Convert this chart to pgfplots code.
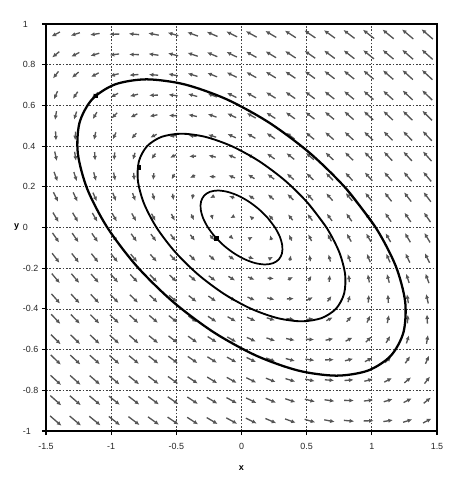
\documentclass[border=0pt]{standalone}
\usepackage{fontspec}
\setmainfont{Liberation Sans}
\usepackage{pgfplots}
\usepackage{pgfplotstable}
\pgfplotsset{compat=1.18}
\usetikzlibrary{arrows.meta}
\pgfplotstableread{
x y u v
-1.425 -0.95 4.275 -2.375
-1.275 -0.95 4.125 -2.225
-1.125 -0.95 3.975 -2.075
-0.975 -0.95 3.825 -1.925
-0.825 -0.95 3.675 -1.775
-0.675 -0.95 3.525 -1.625
-0.525 -0.95 3.375 -1.475
-0.375 -0.95 3.225 -1.325
-0.225 -0.95 3.075 -1.175
-0.075 -0.95 2.925 -1.025
0.075 -0.95 2.775 -0.875
0.225 -0.95 2.625 -0.725
0.375 -0.95 2.475 -0.575
0.525 -0.95 2.325 -0.425
0.675 -0.95 2.175 -0.275
0.825 -0.95 2.025 -0.125
0.975 -0.95 1.875 0.025
1.125 -0.95 1.725 0.175
1.275 -0.95 1.575 0.325
1.425 -0.95 1.425 0.475
-1.425 -0.85 3.975 -2.275
-1.275 -0.85 3.825 -2.125
-1.125 -0.85 3.675 -1.975
-0.975 -0.85 3.525 -1.825
-0.825 -0.85 3.375 -1.675
-0.675 -0.85 3.225 -1.525
-0.525 -0.85 3.075 -1.375
-0.375 -0.85 2.925 -1.225
-0.225 -0.85 2.775 -1.075
-0.075 -0.85 2.625 -0.925
0.075 -0.85 2.475 -0.775
0.225 -0.85 2.325 -0.625
0.375 -0.85 2.175 -0.475
0.525 -0.85 2.025 -0.325
0.675 -0.85 1.875 -0.175
0.825 -0.85 1.725 -0.025
0.975 -0.85 1.575 0.125
1.125 -0.85 1.425 0.275
1.275 -0.85 1.275 0.425
1.425 -0.85 1.125 0.575
-1.425 -0.75 3.675 -2.175
-1.275 -0.75 3.525 -2.025
-1.125 -0.75 3.375 -1.875
-0.975 -0.75 3.225 -1.725
-0.825 -0.75 3.075 -1.575
-0.675 -0.75 2.925 -1.425
-0.525 -0.75 2.775 -1.275
-0.375 -0.75 2.625 -1.125
-0.225 -0.75 2.475 -0.975
-0.075 -0.75 2.325 -0.825
0.075 -0.75 2.175 -0.675
0.225 -0.75 2.025 -0.525
0.375 -0.75 1.875 -0.375
0.525 -0.75 1.725 -0.225
0.675 -0.75 1.575 -0.075
0.825 -0.75 1.425 0.075
0.975 -0.75 1.275 0.225
1.125 -0.75 1.125 0.375
1.275 -0.75 0.975 0.525
1.425 -0.75 0.825 0.675
-1.425 -0.65 3.375 -2.075
-1.275 -0.65 3.225 -1.925
-1.125 -0.65 3.075 -1.775
-0.975 -0.65 2.925 -1.625
-0.825 -0.65 2.775 -1.475
-0.675 -0.65 2.625 -1.325
-0.525 -0.65 2.475 -1.175
-0.375 -0.65 2.325 -1.025
-0.225 -0.65 2.175 -0.875
-0.075 -0.65 2.025 -0.725
0.075 -0.65 1.875 -0.575
0.225 -0.65 1.725 -0.425
0.375 -0.65 1.575 -0.275
0.525 -0.65 1.425 -0.125
0.675 -0.65 1.275 0.025
0.825 -0.65 1.125 0.175
0.975 -0.65 0.975 0.325
1.125 -0.65 0.825 0.475
1.275 -0.65 0.675 0.625
1.425 -0.65 0.525 0.775
-1.425 -0.55 3.075 -1.975
-1.275 -0.55 2.925 -1.825
-1.125 -0.55 2.775 -1.675
-0.975 -0.55 2.625 -1.525
-0.825 -0.55 2.475 -1.375
-0.675 -0.55 2.325 -1.225
-0.525 -0.55 2.175 -1.075
-0.375 -0.55 2.025 -0.925
-0.225 -0.55 1.875 -0.775
-0.075 -0.55 1.725 -0.625
0.075 -0.55 1.575 -0.475
0.225 -0.55 1.425 -0.325
0.375 -0.55 1.275 -0.175
0.525 -0.55 1.125 -0.025
0.675 -0.55 0.975 0.125
0.825 -0.55 0.825 0.275
0.975 -0.55 0.675 0.425
1.125 -0.55 0.525 0.575
1.275 -0.55 0.375 0.725
1.425 -0.55 0.225 0.875
-1.425 -0.45 2.775 -1.875
-1.275 -0.45 2.625 -1.725
-1.125 -0.45 2.475 -1.575
-0.975 -0.45 2.325 -1.425
-0.825 -0.45 2.175 -1.275
-0.675 -0.45 2.025 -1.125
-0.525 -0.45 1.875 -0.975
-0.375 -0.45 1.725 -0.825
-0.225 -0.45 1.575 -0.675
-0.075 -0.45 1.425 -0.525
0.075 -0.45 1.275 -0.375
0.225 -0.45 1.125 -0.225
0.375 -0.45 0.975 -0.075
0.525 -0.45 0.825 0.075
0.675 -0.45 0.675 0.225
0.825 -0.45 0.525 0.375
0.975 -0.45 0.375 0.525
1.125 -0.45 0.225 0.675
1.275 -0.45 0.075 0.825
1.425 -0.45 -0.075 0.975
-1.425 -0.35 2.475 -1.775
-1.275 -0.35 2.325 -1.625
-1.125 -0.35 2.175 -1.475
-0.975 -0.35 2.025 -1.325
-0.825 -0.35 1.875 -1.175
-0.675 -0.35 1.725 -1.025
-0.525 -0.35 1.575 -0.875
-0.375 -0.35 1.425 -0.725
-0.225 -0.35 1.275 -0.575
-0.075 -0.35 1.125 -0.425
0.075 -0.35 0.975 -0.275
0.225 -0.35 0.825 -0.125
0.375 -0.35 0.675 0.025
0.525 -0.35 0.525 0.175
0.675 -0.35 0.375 0.325
0.825 -0.35 0.225 0.475
0.975 -0.35 0.075 0.625
1.125 -0.35 -0.075 0.775
1.275 -0.35 -0.225 0.925
1.425 -0.35 -0.375 1.075
-1.425 -0.25 2.175 -1.675
-1.275 -0.25 2.025 -1.525
-1.125 -0.25 1.875 -1.375
-0.975 -0.25 1.725 -1.225
-0.825 -0.25 1.575 -1.075
-0.675 -0.25 1.425 -0.925
-0.525 -0.25 1.275 -0.775
-0.375 -0.25 1.125 -0.625
-0.225 -0.25 0.975 -0.475
-0.075 -0.25 0.825 -0.325
0.075 -0.25 0.675 -0.175
0.225 -0.25 0.525 -0.025
0.375 -0.25 0.375 0.125
0.525 -0.25 0.225 0.275
0.675 -0.25 0.075 0.425
0.825 -0.25 -0.075 0.575
0.975 -0.25 -0.225 0.725
1.125 -0.25 -0.375 0.875
1.275 -0.25 -0.525 1.025
1.425 -0.25 -0.675 1.175
-1.425 -0.15 1.875 -1.575
-1.275 -0.15 1.725 -1.425
-1.125 -0.15 1.575 -1.275
-0.975 -0.15 1.425 -1.125
-0.825 -0.15 1.275 -0.975
-0.675 -0.15 1.125 -0.825
-0.525 -0.15 0.975 -0.675
-0.375 -0.15 0.825 -0.525
-0.225 -0.15 0.675 -0.375
-0.075 -0.15 0.525 -0.225
0.075 -0.15 0.375 -0.075
0.225 -0.15 0.225 0.075
0.375 -0.15 0.075 0.225
0.525 -0.15 -0.075 0.375
0.675 -0.15 -0.225 0.525
0.825 -0.15 -0.375 0.675
0.975 -0.15 -0.525 0.825
1.125 -0.15 -0.675 0.975
1.275 -0.15 -0.825 1.125
1.425 -0.15 -0.975 1.275
-1.425 -0.05 1.575 -1.475
-1.275 -0.05 1.425 -1.325
-1.125 -0.05 1.275 -1.175
-0.975 -0.05 1.125 -1.025
-0.825 -0.05 0.975 -0.875
-0.675 -0.05 0.825 -0.725
-0.525 -0.05 0.675 -0.575
-0.375 -0.05 0.525 -0.425
-0.225 -0.05 0.375 -0.275
-0.075 -0.05 0.225 -0.125
0.075 -0.05 0.075 0.025
0.225 -0.05 -0.075 0.175
0.375 -0.05 -0.225 0.325
0.525 -0.05 -0.375 0.475
0.675 -0.05 -0.525 0.625
0.825 -0.05 -0.675 0.775
0.975 -0.05 -0.825 0.925
1.125 -0.05 -0.975 1.075
1.275 -0.05 -1.125 1.225
1.425 -0.05 -1.275 1.375
-1.425 0.05 1.275 -1.375
-1.275 0.05 1.125 -1.225
-1.125 0.05 0.975 -1.075
-0.975 0.05 0.825 -0.925
-0.825 0.05 0.675 -0.775
-0.675 0.05 0.525 -0.625
-0.525 0.05 0.375 -0.475
-0.375 0.05 0.225 -0.325
-0.225 0.05 0.075 -0.175
-0.075 0.05 -0.075 -0.025
0.075 0.05 -0.225 0.125
0.225 0.05 -0.375 0.275
0.375 0.05 -0.525 0.425
0.525 0.05 -0.675 0.575
0.675 0.05 -0.825 0.725
0.825 0.05 -0.975 0.875
0.975 0.05 -1.125 1.025
1.125 0.05 -1.275 1.175
1.275 0.05 -1.425 1.325
1.425 0.05 -1.575 1.475
-1.425 0.15 0.975 -1.275
-1.275 0.15 0.825 -1.125
-1.125 0.15 0.675 -0.975
-0.975 0.15 0.525 -0.825
-0.825 0.15 0.375 -0.675
-0.675 0.15 0.225 -0.525
-0.525 0.15 0.075 -0.375
-0.375 0.15 -0.075 -0.225
-0.225 0.15 -0.225 -0.075
-0.075 0.15 -0.375 0.075
0.075 0.15 -0.525 0.225
0.225 0.15 -0.675 0.375
0.375 0.15 -0.825 0.525
0.525 0.15 -0.975 0.675
0.675 0.15 -1.125 0.825
0.825 0.15 -1.275 0.975
0.975 0.15 -1.425 1.125
1.125 0.15 -1.575 1.275
1.275 0.15 -1.725 1.425
1.425 0.15 -1.875 1.575
-1.425 0.25 0.675 -1.175
-1.275 0.25 0.525 -1.025
-1.125 0.25 0.375 -0.875
-0.975 0.25 0.225 -0.725
-0.825 0.25 0.075 -0.575
-0.675 0.25 -0.075 -0.425
-0.525 0.25 -0.225 -0.275
-0.375 0.25 -0.375 -0.125
-0.225 0.25 -0.525 0.025
-0.075 0.25 -0.675 0.175
0.075 0.25 -0.825 0.325
0.225 0.25 -0.975 0.475
0.375 0.25 -1.125 0.625
0.525 0.25 -1.275 0.775
0.675 0.25 -1.425 0.925
0.825 0.25 -1.575 1.075
0.975 0.25 -1.725 1.225
1.125 0.25 -1.875 1.375
1.275 0.25 -2.025 1.525
1.425 0.25 -2.175 1.675
-1.425 0.35 0.375 -1.075
-1.275 0.35 0.225 -0.925
-1.125 0.35 0.075 -0.775
-0.975 0.35 -0.075 -0.625
-0.825 0.35 -0.225 -0.475
-0.675 0.35 -0.375 -0.325
-0.525 0.35 -0.525 -0.175
-0.375 0.35 -0.675 -0.025
-0.225 0.35 -0.825 0.125
-0.075 0.35 -0.975 0.275
0.075 0.35 -1.125 0.425
0.225 0.35 -1.275 0.575
0.375 0.35 -1.425 0.725
0.525 0.35 -1.575 0.875
0.675 0.35 -1.725 1.025
0.825 0.35 -1.875 1.175
0.975 0.35 -2.025 1.325
1.125 0.35 -2.175 1.475
1.275 0.35 -2.325 1.625
1.425 0.35 -2.475 1.775
-1.425 0.45 0.075 -0.975
-1.275 0.45 -0.075 -0.825
-1.125 0.45 -0.225 -0.675
-0.975 0.45 -0.375 -0.525
-0.825 0.45 -0.525 -0.375
-0.675 0.45 -0.675 -0.225
-0.525 0.45 -0.825 -0.075
-0.375 0.45 -0.975 0.075
-0.225 0.45 -1.125 0.225
-0.075 0.45 -1.275 0.375
0.075 0.45 -1.425 0.525
0.225 0.45 -1.575 0.675
0.375 0.45 -1.725 0.825
0.525 0.45 -1.875 0.975
0.675 0.45 -2.025 1.125
0.825 0.45 -2.175 1.275
0.975 0.45 -2.325 1.425
1.125 0.45 -2.475 1.575
1.275 0.45 -2.625 1.725
1.425 0.45 -2.775 1.875
-1.425 0.55 -0.225 -0.875
-1.275 0.55 -0.375 -0.725
-1.125 0.55 -0.525 -0.575
-0.975 0.55 -0.675 -0.425
-0.825 0.55 -0.825 -0.275
-0.675 0.55 -0.975 -0.125
-0.525 0.55 -1.125 0.025
-0.375 0.55 -1.275 0.175
-0.225 0.55 -1.425 0.325
-0.075 0.55 -1.575 0.475
0.075 0.55 -1.725 0.625
0.225 0.55 -1.875 0.775
0.375 0.55 -2.025 0.925
0.525 0.55 -2.175 1.075
0.675 0.55 -2.325 1.225
0.825 0.55 -2.475 1.375
0.975 0.55 -2.625 1.525
1.125 0.55 -2.775 1.675
1.275 0.55 -2.925 1.825
1.425 0.55 -3.075 1.975
-1.425 0.65 -0.525 -0.775
-1.275 0.65 -0.675 -0.625
-1.125 0.65 -0.825 -0.475
-0.975 0.65 -0.975 -0.325
-0.825 0.65 -1.125 -0.175
-0.675 0.65 -1.275 -0.025
-0.525 0.65 -1.425 0.125
-0.375 0.65 -1.575 0.275
-0.225 0.65 -1.725 0.425
-0.075 0.65 -1.875 0.575
0.075 0.65 -2.025 0.725
0.225 0.65 -2.175 0.875
0.375 0.65 -2.325 1.025
0.525 0.65 -2.475 1.175
0.675 0.65 -2.625 1.325
0.825 0.65 -2.775 1.475
0.975 0.65 -2.925 1.625
1.125 0.65 -3.075 1.775
1.275 0.65 -3.225 1.925
1.425 0.65 -3.375 2.075
-1.425 0.75 -0.825 -0.675
-1.275 0.75 -0.975 -0.525
-1.125 0.75 -1.125 -0.375
-0.975 0.75 -1.275 -0.225
-0.825 0.75 -1.425 -0.075
-0.675 0.75 -1.575 0.075
-0.525 0.75 -1.725 0.225
-0.375 0.75 -1.875 0.375
-0.225 0.75 -2.025 0.525
-0.075 0.75 -2.175 0.675
0.075 0.75 -2.325 0.825
0.225 0.75 -2.475 0.975
0.375 0.75 -2.625 1.125
0.525 0.75 -2.775 1.275
0.675 0.75 -2.925 1.425
0.825 0.75 -3.075 1.575
0.975 0.75 -3.225 1.725
1.125 0.75 -3.375 1.875
1.275 0.75 -3.525 2.025
1.425 0.75 -3.675 2.175
-1.425 0.85 -1.125 -0.575
-1.275 0.85 -1.275 -0.425
-1.125 0.85 -1.425 -0.275
-0.975 0.85 -1.575 -0.125
-0.825 0.85 -1.725 0.025
-0.675 0.85 -1.875 0.175
-0.525 0.85 -2.025 0.325
-0.375 0.85 -2.175 0.475
-0.225 0.85 -2.325 0.625
-0.075 0.85 -2.475 0.775
0.075 0.85 -2.625 0.925
0.225 0.85 -2.775 1.075
0.375 0.85 -2.925 1.225
0.525 0.85 -3.075 1.375
0.675 0.85 -3.225 1.525
0.825 0.85 -3.375 1.675
0.975 0.85 -3.525 1.825
1.125 0.85 -3.675 1.975
1.275 0.85 -3.825 2.125
1.425 0.85 -3.975 2.275
-1.425 0.95 -1.425 -0.475
-1.275 0.95 -1.575 -0.325
-1.125 0.95 -1.725 -0.175
-0.975 0.95 -1.875 -0.025
-0.825 0.95 -2.025 0.125
-0.675 0.95 -2.175 0.275
-0.525 0.95 -2.325 0.425
-0.375 0.95 -2.475 0.575
-0.225 0.95 -2.625 0.725
-0.075 0.95 -2.775 0.875
0.075 0.95 -2.925 1.025
0.225 0.95 -3.075 1.175
0.375 0.95 -3.225 1.325
0.525 0.95 -3.375 1.475
0.675 0.95 -3.525 1.625
0.825 0.95 -3.675 1.775
0.975 0.95 -3.825 1.925
1.125 0.95 -3.975 2.075
1.275 0.95 -4.125 2.225
1.425 0.95 -4.275 2.375
}\field
\definecolor{arrowgray}{HTML}{555555}
\begin{document}
\begin{tikzpicture}[declare function={af(\a,\b)=0.0717*((1.3*\a)^2+(2.035*\b)^2)^(-0.315);}]
\begin{axis}[
  scale only axis,
  width=293.25pt, height=305.25pt,
  xmin=-1.5, xmax=1.5, ymin=-1, ymax=1,
  xtick={-1.5,-1,-0.5,0,0.5,1,1.5},
  ytick={-1,-0.8,-0.6,-0.4,-0.2,0,0.2,0.4,0.6,0.8,1},
  tick pos=left, tick align=outside,
  major tick length=3pt,
  tick style={black, line width=0.8pt},
  axis line style={black, line width=1pt},
  grid=major,
  major grid style={black!75, line width=0.6pt, dash pattern=on 1.2pt off 1.3pt},
  /pgf/number format/assume math mode=true,
  ticklabel style={font=\fontsize{6.7}{7}\selectfont, text=black!85},
  yticklabel style={anchor=west, inner sep=0pt, xshift=-14.5pt},
  xticklabel style={anchor=north, inner sep=0pt, yshift=-6pt},
  xlabel={x}, ylabel={y},
  every axis x label/.style={at={(axis description cs:0.5,0)}, anchor=center, yshift=-27.5pt, font=\bfseries\fontsize{6.8}{7}\selectfont},
  every axis y label/.style={at={(axis description cs:0,0.5)}, anchor=center, xshift=-22pt, font=\bfseries\fontsize{6.8}{7}\selectfont},
]
\addplot[
  arrowgray, line width=1pt,
  -{Latex[length=3.4pt,width=3.2pt]},
  quiver={u={\thisrow{u}*af(\thisrow{u},\thisrow{v})},
          v={\thisrow{v}*af(\thisrow{u},\thisrow{v})}},
] table[
  x expr={\thisrow{x}-0.5*\thisrow{u}*af(\thisrow{u},\thisrow{v})},
  y expr={\thisrow{y}-0.5*\thisrow{v}*af(\thisrow{u},\thisrow{v})},
] {\field};
% outer orbit
\addplot[black, line width=1.7pt, smooth] coordinates {
(1.0296,0) (0.80609,0.18843) (0.52765,0.36402) (0.21324,0.5148) (-0.11570,0.63050)
(-0.43675,0.70323) (-0.72804,0.72804) (-0.96971,0.70323) (-1.14530,0.63050)
(-1.24284,0.5148) (-1.25568,0.36402) (-1.18295,0.18843) (-1.0296,0)
(-0.80609,-0.18843) (-0.52765,-0.36402) (-0.21324,-0.5148) (0.11570,-0.63050)
(0.43675,-0.70323) (0.72804,-0.72804) (0.96971,-0.70323) (1.14530,-0.63050)
(1.24284,-0.5148) (1.25568,-0.36402) (1.18295,-0.18843) (1.0296,0) (0.80609,0.18843)
};
% middle orbit
\addplot[black, line width=1.4pt, smooth] coordinates {
(0.6519,0) (0.51039,0.11930) (0.33409,0.23048) (0.13501,0.32595) (-0.07325,0.39920)
(-0.27653,0.44525) (-0.46097,0.46097) (-0.61398,0.44525) (-0.72515,0.39920)
(-0.78692,0.32595) (-0.79504,0.23048) (-0.74899,0.11930) (-0.6519,0)
(-0.51039,-0.11930) (-0.33409,-0.23048) (-0.13501,-0.32595) (0.07325,-0.39920)
(0.27653,-0.44525) (0.46097,-0.46097) (0.61398,-0.44525) (0.72515,-0.39920)
(0.78692,-0.32595) (0.79504,-0.23048) (0.74899,-0.11930) (0.6519,0) (0.51039,0.11930)
};
% inner orbit
\addplot[black, line width=1.3pt, smooth] coordinates {
(0.2569,0) (0.20113,0.04702) (0.13166,0.09083) (0.05321,0.12845) (-0.02887,0.15732)
(-0.10897,0.17547) (-0.18166,0.18166) (-0.24196,0.17547) (-0.28577,0.15732)
(-0.31011,0.12845) (-0.31331,0.09083) (-0.29516,0.04702) (-0.2569,0)
(-0.20113,-0.04702) (-0.13166,-0.09083) (-0.05321,-0.12845) (0.02887,-0.15732)
(0.10897,-0.17547) (0.18166,-0.18166) (0.24196,-0.17547) (0.28577,-0.15732)
(0.31011,-0.12845) (0.31331,-0.09083) (0.29516,-0.04702) (0.2569,0) (0.20113,0.04702)
};
% initial points
\addplot[only marks, mark=square*, mark size=1.3pt, black] coordinates {
(-1.118,0.648) (-0.79,0.296) (-0.192,-0.053)
};
\end{axis}
\path ([shift={(-34.5pt,-39pt)}]current axis.south west) rectangle ([shift={(25.5pt,18pt)}]current axis.north east);
\end{tikzpicture}
\end{document}
